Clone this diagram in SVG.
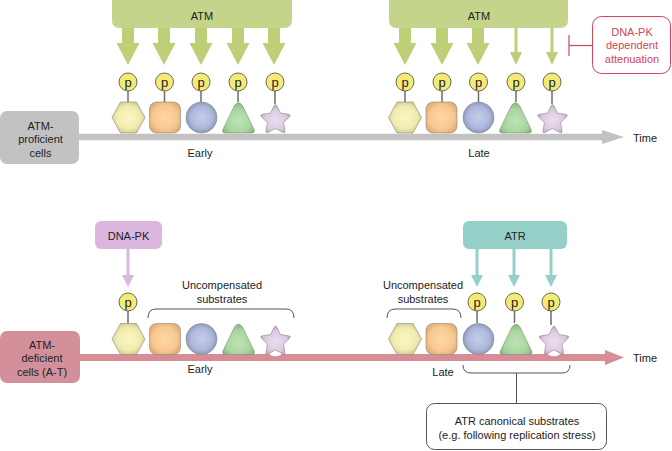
<svg xmlns="http://www.w3.org/2000/svg" xmlns:xlink="http://www.w3.org/1999/xlink" width="672" height="451" viewBox="0 0 672 451">
<style>
text{font-family:"Liberation Sans",Arial,sans-serif;font-size:11px;fill:#222;text-anchor:middle}
.red{fill:#d2455a}
.pt{font-size:13px;fill:#222}
.stem{stroke:#6e6e6e;stroke-width:1.5}
.pc{fill:#f4ea78;stroke:#5a5a4a;stroke-width:0.9}
.br{fill:none;stroke:#555;stroke-width:1}
.sh{stroke:#8a8a80;stroke-width:0.9;stroke-opacity:0.7;stroke-linejoin:round}
.atm{fill:#c4d58b}
.atma{fill:#bdd077}
.atmt{stroke:#bdd077;stroke-width:3;fill:none}
.pk{fill:#dbb6df}
.pkl{stroke:#dbb6df;stroke-width:3}
.atr{fill:#95d0c8}
.atrl{stroke:#95d0c8;stroke-width:3}
</style>
<defs>
<radialGradient id="gHex" cx="0.5" cy="0.5" r="0.55"><stop offset="0" stop-color="#faf7c4"/><stop offset="0.65" stop-color="#f1ecae"/><stop offset="1" stop-color="#cfc98f"/></radialGradient>
<radialGradient id="gSq" cx="0.5" cy="0.5" r="0.6"><stop offset="0" stop-color="#fdd7a6"/><stop offset="0.65" stop-color="#f8c890"/><stop offset="1" stop-color="#dcaa74"/></radialGradient>
<radialGradient id="gCi" cx="0.5" cy="0.5" r="0.5"><stop offset="0" stop-color="#c4cde8"/><stop offset="0.7" stop-color="#aeb8dc"/><stop offset="1" stop-color="#8f9abf"/></radialGradient>
<radialGradient id="gTr" cx="0.5" cy="0.6" r="0.6"><stop offset="0" stop-color="#bde3b5"/><stop offset="0.65" stop-color="#a8d69f"/><stop offset="1" stop-color="#86b67f"/></radialGradient>
<radialGradient id="gSt" cx="0.5" cy="0.55" r="0.55"><stop offset="0" stop-color="#ecdef0"/><stop offset="0.65" stop-color="#dccae2"/><stop offset="1" stop-color="#bca6c4"/></radialGradient>
<polygon id="hex" class="sh" fill="url(#gHex)" points="-16.5,0 -8,-15.5 8,-15.5 16.5,0 8,15.5 -8,15.5"/>
<rect id="sq" class="sh" fill="url(#gSq)" x="-15.5" y="-15.5" width="31" height="31" rx="7"/>
<circle id="ci" class="sh" fill="url(#gCi)" cx="0" cy="0" r="15.5"/>
<path id="tr" class="sh" fill="url(#gTr)" d="M-13,15.5 L13,15.5 Q16.8,15.5 15.6,12 L4,-12 Q0,-17.5 -4,-12 L-15.6,12 Q-16.8,15.5 -13,15.5 Z"/>
<path id="st" class="sh" fill="url(#gSt)" d="M-1.5,-13.96 Q0,-17 1.5,-13.96 L5,-6.88 L12.82,-5.74 Q16.17,-5.25 13.74,-2.89 L8.08,2.63 L9.42,10.41 Q9.99,13.75 6.99,12.17 L0,8.5 L-6.99,12.17 Q-9.99,13.75 -9.42,10.41 L-8.08,2.63 L-13.74,-2.89 Q-16.17,-5.25 -12.82,-5.74 L-5,-6.88 Z"/>
</defs>
<rect width="672" height="451" fill="#fff"/>

<g id="connectors">
  <line x1="60" y1="137" x2="604" y2="137" stroke="#c2c2c2" stroke-width="6.5"/>
  <polygon points="602,130 624,137 602,144" fill="#c2c2c2"/>
  <line x1="60" y1="357.5" x2="608" y2="357.5" stroke="#d68d96" stroke-width="7"/>
  <polygon points="605,350 624,357.5 605,365" fill="#d68d96"/>
  <g class="atma">
    <polygon points="122,27 134,27 134,43 139.5,43 128,65 116.5,43 122,43"/>
    <polygon points="158,27 170,27 170,43 175.5,43 164,65 152.5,43 158,43"/>
    <polygon points="195,27 207,27 207,43 212.5,43 201,65 189.5,43 195,43"/>
    <polygon points="232,27 244,27 244,43 249.5,43 238,65 226.5,43 232,43"/>
    <polygon points="268,27 280,27 280,43 285.5,43 274,65 262.5,43 268,43"/>
    <polygon points="399,27 411,27 411,43 416.5,43 405,65 393.5,43 399,43"/>
    <polygon points="436,27 448,27 448,43 453.5,43 442,65 430.5,43 436,43"/>
    <polygon points="472,27 484,27 484,43 489.5,43 478,65 466.5,43 472,43"/>
    <polygon points="510,52 522,52 516,65"/>
    <polygon points="546,52 558,52 552,65"/>
  </g>
  <line class="atmt" x1="516" y1="27" x2="516" y2="53"/>
  <line class="atmt" x1="552" y1="27" x2="552" y2="53"/>
  <line x1="569" y1="35" x2="569" y2="56" stroke="#d2455a" stroke-width="1.2"/>
  <line x1="569" y1="45.5" x2="592" y2="45.5" stroke="#d2455a" stroke-width="1.2"/>
  <line class="pkl" x1="128" y1="249" x2="128" y2="276"/>
  <polygon class="pk" points="122,275 134,275 128,287"/>
  <line class="atrl" x1="477" y1="249" x2="477" y2="276"/>
  <polygon class="atr" points="471,275 483,275 477,287"/>
  <line class="atrl" x1="514" y1="249" x2="514" y2="276"/>
  <polygon class="atr" points="508,275 520,275 514,287"/>
  <line class="atrl" x1="551" y1="249" x2="551" y2="276"/>
  <polygon class="atr" points="545,275 557,275 551,287"/>
  <path class="br" d="M148,318 Q148,309 156,309 L286,309 Q294,309 294,318"/>
  <path class="br" d="M387,318 Q387,309 395,309 L453,309 Q461,309 461,318"/>
  <path class="br" d="M463,365 Q463,373 471,373 L562,373 Q570,373 570,365"/>
  <line class="br" x1="516.5" y1="373" x2="516.5" y2="403"/>
</g>

<g id="atm-early">
  <rect class="atm" x="112" y="-7" width="180" height="35" rx="7"/>
  <text x="202" y="20">ATM</text>
</g>
<g id="atm-late">
  <rect class="atm" x="389" y="-7" width="179" height="35" rx="7"/>
  <text x="479" y="20">ATM</text>
</g>
<g id="dnapk-attenuation">
  <rect x="592.5" y="16.5" width="78" height="57" rx="9" fill="#fff" stroke="#d2455a" stroke-width="1"/>
  <text class="red" x="632" y="35.5">DNA-PK</text>
  <text class="red" x="632" y="49">dependent</text>
  <text class="red" x="632" y="62.5">attenuation</text>
</g>
<g id="label-proficient">
  <rect x="0" y="111" width="79" height="53" rx="7" fill="#c2c2c2"/>
  <text x="40.5" y="129.5">ATM-</text>
  <text x="40.5" y="143">proficient</text>
  <text x="40.5" y="156.5">cells</text>
</g>
<g id="label-deficient">
  <rect x="0" y="331" width="80" height="52" rx="7" fill="#d4909a"/>
  <text x="42" y="348.5">ATM-</text>
  <text x="42" y="362">deficient</text>
  <text x="42" y="375.5">cells (A-T)</text>
</g>

<g id="substrates-proficient-early">
  <line class="stem" x1="128" y1="91" x2="128" y2="102"/>
  <line class="stem" x1="164.5" y1="91" x2="164.5" y2="102"/>
  <line class="stem" x1="201" y1="91" x2="201" y2="102"/>
  <line class="stem" x1="238" y1="91" x2="238" y2="102"/>
  <line class="stem" x1="275" y1="91" x2="275" y2="104"/>
  <use xlink:href="#hex" x="128.5" y="117.5"/>
  <use xlink:href="#sq" x="165" y="117.5"/>
  <use xlink:href="#ci" x="201.5" y="117.5"/>
  <use xlink:href="#tr" x="238.5" y="117.5"/>
  <use xlink:href="#st" x="275.5" y="120"/>
  <circle class="pc" cx="128" cy="82" r="9"/><text class="pt" x="128" y="86.5">p</text>
  <circle class="pc" cx="164.5" cy="82" r="9"/><text class="pt" x="164.5" y="86.5">p</text>
  <circle class="pc" cx="201" cy="82" r="9"/><text class="pt" x="201" y="86.5">p</text>
  <circle class="pc" cx="238" cy="82" r="9"/><text class="pt" x="238" y="86.5">p</text>
  <circle class="pc" cx="275" cy="82" r="9"/><text class="pt" x="275" y="86.5">p</text>
  <text x="200" y="157">Early</text>
</g>
<g id="substrates-proficient-late">
  <line class="stem" x1="405" y1="91" x2="405" y2="102"/>
  <line class="stem" x1="442" y1="91" x2="442" y2="102"/>
  <line class="stem" x1="478.5" y1="91" x2="478.5" y2="102"/>
  <line class="stem" x1="516" y1="91" x2="516" y2="102"/>
  <line class="stem" x1="552" y1="91" x2="552" y2="104"/>
  <use xlink:href="#hex" x="405" y="117.5"/>
  <use xlink:href="#sq" x="441.5" y="117.5"/>
  <use xlink:href="#ci" x="478.5" y="117.5"/>
  <use xlink:href="#tr" x="515.5" y="117.5"/>
  <use xlink:href="#st" x="552.5" y="120"/>
  <circle class="pc" cx="405" cy="82" r="9"/><text class="pt" x="405" y="86.5">p</text>
  <circle class="pc" cx="442" cy="82" r="9"/><text class="pt" x="442" y="86.5">p</text>
  <circle class="pc" cx="478.5" cy="82" r="9"/><text class="pt" x="478.5" y="86.5">p</text>
  <circle class="pc" cx="516" cy="82" r="9"/><text class="pt" x="516" y="86.5">p</text>
  <circle class="pc" cx="552" cy="82" r="9"/><text class="pt" x="552" y="86.5">p</text>
  <text x="479" y="157">Late</text>
  <text x="645" y="142">Time</text>
</g>

<g id="dnapk">
  <rect class="pk" x="95" y="221" width="67" height="28" rx="6"/>
  <text x="128.5" y="239.5">DNA-PK</text>
</g>
<g id="atr">
  <rect class="atr" x="463" y="221" width="104" height="28" rx="6"/>
  <text x="515" y="239.5">ATR</text>
</g>
<g id="uncomp-early">
  <text x="222" y="289">Uncompensated</text>
  <text x="222" y="303">substrates</text>
</g>
<g id="uncomp-late">
  <text x="423" y="289">Uncompensated</text>
  <text x="423" y="303">substrates</text>
</g>

<g id="substrates-deficient-early">
  <line class="stem" x1="128" y1="311" x2="128" y2="323"/>
  <use xlink:href="#hex" x="128.5" y="339"/>
  <use xlink:href="#sq" x="165" y="339"/>
  <use xlink:href="#ci" x="201.5" y="339"/>
  <use xlink:href="#tr" x="238.5" y="339"/>
  <ellipse cx="275.5" cy="353.5" rx="6" ry="2.8" fill="#fff"/>
  <use xlink:href="#st" x="275.5" y="341.5"/>
  <circle class="pc" cx="128" cy="302" r="9"/><text class="pt" x="128" y="306.5">p</text>
  <text x="200" y="373">Early</text>
</g>
<g id="substrates-deficient-late">
  <line class="stem" x1="477" y1="311" x2="477" y2="323"/>
  <line class="stem" x1="514.5" y1="311" x2="514.5" y2="323"/>
  <line class="stem" x1="551" y1="311" x2="551" y2="325"/>
  <use xlink:href="#hex" x="405" y="339"/>
  <use xlink:href="#sq" x="441.5" y="339"/>
  <use xlink:href="#ci" x="478.5" y="339"/>
  <use xlink:href="#tr" x="516" y="339"/>
  <ellipse cx="554" cy="353.5" rx="6" ry="2.8" fill="#fff"/>
  <use xlink:href="#st" x="554" y="341.5"/>
  <circle class="pc" cx="477" cy="302" r="9"/><text class="pt" x="477" y="306.5">p</text>
  <circle class="pc" cx="514.5" cy="302" r="9"/><text class="pt" x="514.5" y="306.5">p</text>
  <circle class="pc" cx="551" cy="302" r="9"/><text class="pt" x="551" y="306.5">p</text>
  <text x="443" y="376">Late</text>
  <text x="645" y="362">Time</text>
</g>

<g id="atr-canonical">
  <rect x="426.5" y="403.5" width="180" height="46" rx="8" fill="#fff" stroke="#555" stroke-width="1"/>
  <text x="517" y="425">ATR canonical substrates</text>
  <text x="517" y="438.5">(e.g. following replication stress)</text>
</g>
</svg>
